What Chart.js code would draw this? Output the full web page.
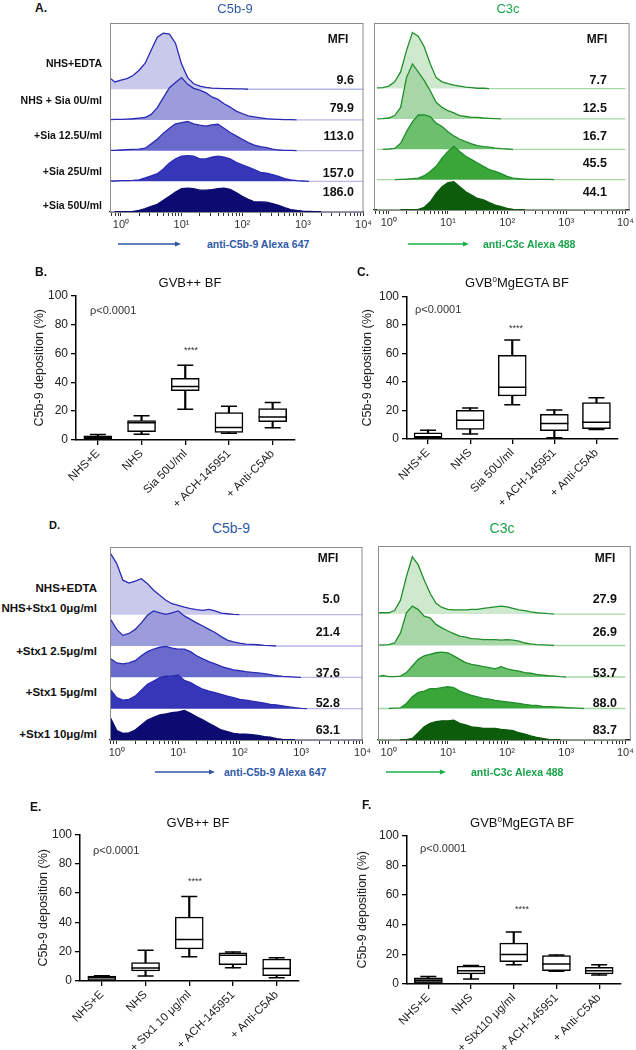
<!DOCTYPE html>
<html>
<head>
<meta charset="utf-8">
<script src="https://cdn.jsdelivr.net/npm/chart.js@4.4.1/dist/chart.umd.min.js"></script>
<style>
  body { margin: 0; background: #fff; }
  #fig { position: relative; width: 636px; height: 1050px; overflow: hidden; font-family: 'Liberation Sans', Arial, sans-serif; }
  #fig canvas { position: absolute; }
  .t { position: absolute; white-space: nowrap; line-height: 1; color: #111; }
  .b { font-weight: bold; }
  sup { font-size: 8px; vertical-align: 5px; line-height: 0; }
</style>
</head>
<body>
<div id="fig"></div>
<script>
// histogram bins, log10 of fluorescence
const logBins = [-0.2, -0.1, 0, 0.1, 0.2, 0.3, 0.4, 0.5, 0.6, 0.7,
  0.8, 0.9, 1, 1.1, 1.2, 1.3, 1.4, 1.5, 1.6, 1.7,
  1.8, 1.9, 2, 2.1, 2.2, 2.3, 2.4, 2.5, 2.6, 2.7,
  2.8, 2.9, 3, 3.1, 3.2, 3.3, 3.4, 3.5, 3.6, 3.7,
  3.8, 3.9, 4];

// A. sialidase, anti-C5b-9 (rows top -> bottom, counts scaled to row height 100)
const siaC5b9 = [
  [40, 24, 30, 35, 45, 62, 85, 128, 170, 183, 180, 150, 82, 38, 18, 10, 6, 4, 3, 2, 2, 1, 1, 0, 0, 0, 0, 0, 0, 0, 0, 0, 0, 0, 0, 0, 0, 0, 0, 0, 0, 0, 0],
  [1, 2, 2, 3, 4, 6, 8, 18, 40, 73, 105, 122, 138, 116, 103, 97, 89, 75, 67, 53, 42, 29, 21, 13, 10, 7, 4, 3, 2, 1, 1, 0, 0, 0, 0, 0, 0, 0, 0, 0, 0, 0, 0],
  [1, 1, 2, 3, 4, 5, 8, 22, 37, 57, 73, 87, 91, 95, 87, 83, 80, 84, 86, 73, 59, 48, 37, 26, 18, 13, 10, 5, 2, 1, 1, 0, 0, 0, 0, 0, 0, 0, 0, 0, 0, 0, 0],
  [1, 1, 2, 2, 3, 5, 11, 18, 25, 40, 60, 73, 82, 84, 82, 73, 73, 79, 82, 79, 73, 62, 54, 46, 38, 29, 27, 22, 16, 9, 5, 2, 1, 0, 0, 0, 0, 0, 0, 0, 0, 0, 0],
  [0, 0, 1, 1, 2, 5, 11, 18, 25, 38, 51, 65, 76, 78, 76, 71, 71, 73, 76, 78, 74, 63, 51, 41, 33, 33, 32, 27, 22, 14, 8, 5, 3, 2, 1, 0, 0, 0, 0, 0, 0, 0, 0]
];
// A. sialidase, anti-C3c
const siaC3c = [
  [2, 3, 8, 22, 55, 126, 185, 172, 137, 82, 36, 22, 16, 11, 8, 5, 3, 1, 1, 0, 0, 0, 0, 0, 0, 0, 0, 0, 0, 0, 0, 0, 0, 0, 0, 0, 0, 0, 0, 0, 0, 0, 0],
  [0, 1, 3, 11, 38, 137, 181, 154, 126, 93, 55, 38, 27, 20, 11, 8, 5, 5, 3, 2, 1, 0, 0, 0, 0, 0, 0, 0, 0, 0, 0, 0, 0, 0, 0, 0, 0, 0, 0, 0, 0, 0, 0],
  [0, 0, 1, 3, 20, 58, 91, 113, 113, 108, 86, 75, 58, 44, 33, 25, 18, 12, 9, 7, 4, 2, 1, 0, 0, 0, 0, 0, 0, 0, 0, 0, 0, 0, 0, 0, 0, 0, 0, 0, 0, 0, 0],
  [0, 0, 0, 0, 1, 2, 3, 5, 13, 27, 44, 71, 93, 110, 93, 77, 66, 55, 44, 33, 27, 20, 11, 5, 3, 2, 1, 1, 1, 1, 0, 0, 0, 0, 0, 0, 0, 0, 0, 0, 0, 0, 0],
  [0, 0, 0, 0, 0, 1, 1, 2, 9, 27, 55, 77, 90, 93, 77, 60, 49, 38, 33, 24, 16, 11, 5, 2, 1, 0, 0, 0, 0, 0, 0, 0, 0, 0, 0, 0, 0, 0, 0, 0, 0, 0, 0]
];
// D. Stx1, anti-C5b-9
const stxC5b9 = [
  [195, 195, 163, 110, 101, 107, 115, 99, 78, 62, 46, 35, 30, 24, 19, 16, 14, 17, 12, 5, 3, 1, 0, 0, 0, 0, 0, 0, 0, 0, 0, 0, 0, 0, 0, 0, 0, 0, 0, 0, 0, 0, 0],
  [85, 85, 53, 34, 40, 53, 74, 98, 112, 106, 101, 106, 112, 96, 85, 74, 64, 53, 43, 30, 19, 13, 9, 6, 5, 4, 2, 1, 0, 0, 0, 0, 0, 0, 0, 0, 0, 0, 0, 0, 0, 0, 0],
  [60, 60, 46, 43, 46, 53, 69, 82, 90, 96, 99, 93, 90, 90, 82, 69, 59, 50, 43, 35, 29, 24, 21, 18, 16, 14, 12, 9, 5, 3, 2, 1, 0, 0, 0, 0, 0, 0, 0, 0, 0, 0, 0],
  [60, 60, 35, 27, 30, 40, 59, 78, 88, 99, 104, 104, 108, 90, 83, 72, 62, 56, 51, 46, 40, 35, 30, 27, 24, 21, 18, 14, 12, 9, 6, 3, 1, 0, 0, 0, 0, 0, 0, 0, 0, 0, 0],
  [70, 70, 30, 21, 23, 32, 48, 64, 72, 80, 83, 87, 90, 94, 85, 74, 64, 53, 43, 32, 27, 21, 19, 19, 17, 15, 11, 9, 4, 2, 1, 0, 0, 0, 0, 0, 0, 0, 0, 0, 0, 0, 0]
];
// D. Stx1, anti-C3c
const stxC3c = [
  [4, 4, 4, 11, 44, 119, 182, 156, 108, 66, 34, 21, 15, 13, 13, 13, 15, 15, 18, 20, 23, 25, 23, 18, 13, 11, 7, 4, 3, 1, 0, 0, 0, 0, 0, 0, 0, 0, 0, 0, 0, 0, 0],
  [1, 2, 3, 8, 40, 104, 125, 114, 93, 88, 67, 56, 46, 38, 30, 27, 22, 21, 19, 19, 19, 17, 19, 17, 14, 8, 5, 3, 2, 1, 0, 0, 0, 0, 0, 0, 0, 0, 0, 0, 0, 0, 0],
  [0, 5, 1, 1, 3, 14, 35, 56, 67, 72, 77, 79, 77, 67, 56, 46, 40, 37, 33, 30, 26, 33, 26, 22, 19, 14, 12, 8, 6, 4, 3, 1, 0, 0, 0, 0, 0, 0, 0, 0, 0, 0, 0],
  [0, 0, 0, 1, 2, 16, 37, 51, 55, 63, 63, 66, 69, 66, 55, 48, 42, 37, 32, 30, 26, 23, 21, 19, 16, 13, 11, 10, 7, 6, 5, 4, 3, 2, 1, 0, 0, 0, 0, 0, 0, 0, 0],
  [0, 0, 0, 0, 0, 1, 5, 23, 42, 53, 58, 61, 61, 63, 53, 48, 42, 40, 37, 37, 37, 34, 32, 30, 23, 19, 13, 8, 5, 2, 1, 0, 0, 0, 0, 0, 0, 0, 0, 0, 0, 0, 0]
];

const siaRows = ['NHS+EDTA', 'NHS + Sia 0U/ml', '+Sia 12.5U/ml', '+Sia 25U/ml', '+Sia 50U/ml'];
const stxRows = ['NHS+EDTA', 'NHS+Stx1 0\u03bcg/ml', '+Stx1 2.5\u03bcg/ml', '+Stx1 5\u03bcg/ml', '+Stx1 10\u03bcg/ml'];
const mfiSiaC5b9 = ['9.6', '79.9', '113.0', '157.0', '186.0'];
const mfiSiaC3c = ['7.7', '12.5', '16.7', '45.5', '44.1'];
const mfiStxC5b9 = ['5.0', '21.4', '37.6', '52.8', '63.1'];
const mfiStxC3c = ['27.9', '26.9', '53.7', '88.0', '83.7'];
const decadeTicks = ['10\u2070', '10\u00b9', '10\u00b2', '10\u00b3', '10\u2074'];

// box plots: C5b-9 deposition (%)
const siaGroups = ['NHS+E', 'NHS', 'Sia 50U/ml', '+ ACH-145951', '+ Anti-C5Ab'];
const stxGroupsE = ['NHS+E', 'NHS', '+ Stx1 10 \u03bcg/ml', '+ ACH-145951', '+ Anti-C5Ab'];
const stxGroupsF = ['NHS+E', 'NHS', '+ Stx110 \u03bcg/ml', '+ ACH-145951', '+ Anti-C5Ab'];

const bMin = [0.3, 3.9, 21.2, 4.6, 8.4];
const bQ1 = [0.8, 5.7, 34.2, 5.3, 12.6];
const bMed = [1.8, 11.9, 37.0, 8.7, 16.0];
const bQ3 = [2.8, 13.5, 42.7, 19.0, 21.7];
const bMax = [3.8, 16.7, 51.8, 23.3, 26.0];

const cMin = [0, 3.5, 24.1, 0.9, 6.7];
const cQ1 = [0.5, 6.7, 30.3, 5.8, 7.2];
const cMed = [1.6, 13.2, 36.3, 10.9, 11.8];
const cQ3 = [4.4, 20.1, 58.8, 17.4, 25.5];
const cMax = [6.2, 21.8, 69.4, 20.4, 28.9];

const eMin = [0, 3.4, 16.5, 9.0, 2.3];
const eQ1 = [0.2, 6.8, 21.9, 11.1, 3.6];
const eMed = [2.5, 8.8, 28.4, 17.6, 8.6];
const eQ3 = [3.3, 12.6, 43.6, 19.2, 14.9];
const eMax = [3.6, 21.0, 57.6, 19.8, 15.8];

const fMin = [0, 3.4, 12.9, 8.6, 6.1];
const fQ1 = [0.4, 6.8, 15.1, 9.0, 6.8];
const fMed = [2.3, 9.0, 19.9, 13.5, 9.0];
const fQ3 = [4.1, 12.0, 27.5, 19.2, 11.3];
const fMax = [5.0, 12.4, 35.0, 19.6, 12.9];

Chart.defaults.font.family = "'Liberation Sans', Arial, sans-serif";
Chart.defaults.animation = false;

const fig = document.getElementById('fig');
const ROW = 100, YTOP = 616;

function addCanvas(x, y, w, h) {
  const c = document.createElement('canvas');
  c.width = w; c.height = h;
  c.style.left = x + 'px'; c.style.top = y + 'px';
  fig.appendChild(c);
  return c;
}

function text(str, x, y, align, cls, style) {
  const d = document.createElement('div');
  d.className = 't ' + (cls || '');
  d.innerHTML = str;
  const tx = align === 'c' ? '-50%' : align === 'r' ? '-100%' : '0';
  d.style.cssText = `left:${x}px;top:${y}px;transform:translate(${tx},-50%);` + (style || '');
  fig.appendChild(d);
}

const frame = {
  id: 'frame',
  afterDraw(chart, args, opts) {
    const { ctx, chartArea: a } = chart;
    ctx.save();
    ctx.strokeStyle = opts.color || '#888';
    ctx.lineWidth = 1;
    ctx.strokeRect(a.left + 0.5, a.top + 0.5, a.right - a.left - 1, a.bottom - a.top);
    ctx.restore();
  }
};

function logTicks(scale) {
  const t = [];
  for (let k = -1; k <= 4; k++) {
    for (let m = 1; m <= 9; m++) {
      const v = m * Math.pow(10, k);
      if (v >= scale.min * 0.9999 && v <= scale.max * 1.0001) t.push({ value: v, major: m === 1 });
    }
  }
  scale.ticks = t;
}

function decadeLabel(v) {
  const l = Math.log10(v), e = Math.round(l);
  return Math.abs(l - e) < 1e-6 && e >= 0 ? decadeTicks[e] : '';
}

function flowPanel(pos, rows, fills, line, base, range) {
  const cv = addCanvas(pos.x, pos.y, pos.w, pos.h);
  const n = rows.length;
  const datasets = rows.map((h, i) => {
    const off = (n - 1 - i) * ROW;
    return {
      data: logBins.map((e, k) => ({ x: Math.pow(10, e), y: off + h[k] })),
      fill: { value: off },
      backgroundColor: fills[i],
      borderColor: i === n - 1 ? fills[i] : line,
      borderWidth: 1.3,
      pointRadius: 0,
      tension: 0,
      order: n - i,
      segment: {
        borderColor: c => (h[c.p0DataIndex] === 0 && h[c.p1DataIndex] === 0) ? base : undefined
      }
    };
  });
  new Chart(cv, {
    type: 'line',
    data: { datasets },
    options: {
      responsive: false,
      layout: { padding: { left: pos.pl, right: pos.pr, top: pos.pt, bottom: 0 } },
      plugins: { legend: { display: false }, tooltip: { enabled: false }, frame: { color: '#8c8c8c' } },
      scales: {
        x: {
          type: 'logarithmic',
          min: Math.pow(10, range[0]),
          max: Math.pow(10, range[1]),
          afterBuildTicks: logTicks,
          afterFit: s => { s.height = 20; },
          ticks: { autoSkip: false, minRotation: 0, maxRotation: 0, padding: 2, color: '#333', font: { size: 11 }, callback: decadeLabel },
          grid: { drawOnChartArea: false, drawTicks: true, tickLength: 4, color: '#333' },
          border: { color: '#222', width: 1.3 }
        },
        y: { display: false, min: 0, max: YTOP }
      }
    },
    plugins: [frame]
  });
}

function boxPanel(pos, groups, mn, q1, md, q3, mx, firstFill) {
  const cv = addCanvas(pos.x, pos.y, pos.w, pos.h);
  const capLine = (data, r) => ({
    type: 'line', data, showLine: false, pointStyle: 'line',
    pointRadius: r, pointHoverRadius: r, pointBorderWidth: 1.5, pointBorderColor: '#000', order: 1
  });
  new Chart(cv, {
    type: 'bar',
    data: {
      labels: groups,
      datasets: [
        { type: 'bar', data: mn.map((v, i) => [v, mx[i]]), backgroundColor: '#000', barThickness: 1.5, grouped: false, order: 3 },
        { type: 'bar', data: q1.map((v, i) => [v, q3[i]]), backgroundColor: groups.map((g, i) => i === 0 ? firstFill : '#fff'),
          borderColor: '#000', borderWidth: 1.5, borderSkipped: false, barThickness: 28, grouped: false, order: 2 },
        capLine(md, 14),
        capLine(mx, 8),
        capLine(mn, 8)
      ]
    },
    options: {
      responsive: false,
      layout: { padding: { left: 0, right: pos.pr, top: 14, bottom: 0 } },
      plugins: { legend: { display: false }, tooltip: { enabled: false } },
      scales: {
        x: {
          afterFit: s => { s.height = pos.xh; },
          ticks: { autoSkip: false, minRotation: 45, maxRotation: 45, padding: 2, color: '#222', font: { size: 11.5 } },
          grid: { offset: false, drawOnChartArea: false, tickLength: 5, color: '#000', lineWidth: 1.3 },
          border: { color: '#000', width: 1.5 }
        },
        y: {
          min: 0, max: 100,
          afterFit: s => { s.width = pos.yw; },
          ticks: { stepSize: 20, padding: 3, color: '#222', font: { size: 12 } },
          grid: { drawOnChartArea: false, tickLength: 5, color: '#000', lineWidth: 1.3 },
          border: { color: '#000', width: 1.5 },
          title: { display: true, text: 'C5b-9 deposition (%)', color: '#222', font: { size: 12.5 } }
        }
      }
    }
  });
}

const blueFills = ['#c9c9ec', '#9c9cdc', '#6a6acd', '#3636b8', '#0b0b72'];
const greenFills = ['#cfe9cf', '#a7d7a7', '#6cbf6c', '#3aa63a', '#0c5c0c'];
const blueLine = '#2a2ab5', blueBase = '#b8b8ea';
const greenLine = '#1f8f2a', greenBase = '#a6d8a6';

flowPanel({ x: 100, y: 15, w: 274, h: 217, pl: 10, pr: 10, pt: 8 }, siaC5b9, blueFills, blueLine, blueBase, [-0.18, 4.0]);
flowPanel({ x: 366, y: 15, w: 270, h: 215, pl: 8, pr: 5, pt: 8 }, siaC3c, greenFills, greenLine, greenBase, [-0.25, 4.07]);
flowPanel({ x: 100, y: 539, w: 273, h: 221, pl: 10, pr: 10, pt: 8 }, stxC5b9, blueFills, blueLine, blueBase, [-0.11, 4.0]);
flowPanel({ x: 368, y: 538, w: 268, h: 222, pl: 10, pr: 5, pt: 8 }, stxC3c, greenFills, greenLine, greenBase, [-0.18, 4.09]);

boxPanel({ x: 28, y: 280, w: 282, h: 228, pr: 8, yw: 48, xh: 68 }, siaGroups, bMin, bQ1, bMed, bQ3, bMax, '#3a3a3a');
boxPanel({ x: 356, y: 281, w: 277, h: 226, pr: 8, yw: 51, xh: 68 }, siaGroups, cMin, cQ1, cMed, cQ3, cMax, '#ffffff');
boxPanel({ x: 32, y: 819, w: 282, h: 230, pr: 8, yw: 48, xh: 68 }, stxGroupsE, eMin, eQ1, eMed, eQ3, eMax, '#7a7a7a');
boxPanel({ x: 351, y: 820, w: 285, h: 230, pr: 1, yw: 56, xh: 66 }, stxGroupsF, fMin, fQ1, fMed, fQ3, fMax, '#6a6a6a');

// panel letters and titles
const C5 = 'color:#2f5aa6;', C3 = 'color:#19a34a;';
text('A.', 35, 8, 'l', 'b', 'font-size:12px;');
text('C5b-9', 235, 8, 'c', '', 'font-size:13px;' + C5);
text('C3c', 508, 8, 'c', '', 'font-size:13px;' + C3);
text('D.', 49, 525, 'l', 'b', 'font-size:11px;');
text('C5b-9', 231, 528, 'c', '', 'font-size:14px;' + C5);
text('C3c', 502, 528, 'c', '', 'font-size:14px;' + C3);

const rowYA = [63, 100, 135, 171, 205];
siaRows.forEach((s, i) => text(s, 102, rowYA[i], 'r', 'b', 'font-size:10.5px;'));
const mfiYA = [80, 108, 136, 173, 192];
text('MFI', 338, 39, 'c', 'b', 'font-size:12px;');
text('MFI', 597, 39, 'c', 'b', 'font-size:12px;');
mfiSiaC5b9.forEach((s, i) => text(s, 354, mfiYA[i], 'r', 'b', 'font-size:12.5px;'));
const mfiYA2 = [80, 108, 136, 163, 192];
mfiSiaC3c.forEach((s, i) => text(s, 607, mfiYA2[i], 'r', 'b', 'font-size:12.5px;'));

const rowYD = [589, 609, 652, 693, 735];
stxRows.forEach((s, i) => text(s, 97, rowYD[i], 'r', 'b', 'font-size:11.5px;'));
const mfiYD = [599, 632, 673, 703, 730];
text('MFI', 328, 558, 'c', 'b', 'font-size:12px;');
text('MFI', 605, 558, 'c', 'b', 'font-size:12px;');
mfiStxC5b9.forEach((s, i) => text(s, 340, mfiYD[i], 'r', 'b', 'font-size:12.5px;'));
mfiStxC3c.forEach((s, i) => text(s, 617, mfiYD[i], 'r', 'b', 'font-size:12.5px;'));

// axis captions with arrows
text('anti-C5b-9 Alexa 647', 207, 244, 'l', 'b', 'font-size:10.5px;' + C5);
text('anti-C3c Alexa 488', 483, 244, 'l', 'b', 'font-size:10.5px;' + C3);
text('anti-C5b-9 Alexa 647', 224, 772, 'l', 'b', 'font-size:10.5px;' + C5);
text('anti-C3c Alexa 488', 471, 772, 'l', 'b', 'font-size:10.5px;' + C3);

const svgNS = 'http://www.w3.org/2000/svg';
const svg = document.createElementNS(svgNS, 'svg');
svg.setAttribute('width', 636); svg.setAttribute('height', 1050);
svg.style.cssText = 'position:absolute;left:0;top:0;pointer-events:none;';
fig.appendChild(svg);
function arrow(x1, x2, y, color) {
  const l = document.createElementNS(svgNS, 'line');
  l.setAttribute('x1', x1); l.setAttribute('x2', x2 - 4); l.setAttribute('y1', y); l.setAttribute('y2', y);
  l.setAttribute('stroke', color); l.setAttribute('stroke-width', 1.3);
  svg.appendChild(l);
  const p = document.createElementNS(svgNS, 'polygon');
  p.setAttribute('points', `${x2},${y} ${x2 - 6},${y - 2.5} ${x2 - 6},${y + 2.5}`);
  p.setAttribute('fill', color);
  svg.appendChild(p);
}
arrow(118, 181, 244, '#2f55a4');
arrow(408, 469, 244, '#19b04a');
arrow(155, 215, 772, '#2f55a4');
arrow(386, 446, 772, '#19b04a');

// box plot panel texts
text('B.', 35, 272, 'l', 'b', 'font-size:12px;');
text('GVB++ BF', 190, 282, 'c', '', 'font-size:13px;');
text('\u03c1&lt;0.0001', 90, 310, 'l', '', 'font-size:11px;color:#333;');
text('****', 191, 350, 'c', '', 'font-size:9px;color:#333;');

text('C.', 357, 272, 'l', 'b', 'font-size:12px;');
text('GVB<sup>0</sup>MgEGTA BF', 517, 282, 'c', '', 'font-size:13px;');
text('\u03c1&lt;0.0001', 415, 309, 'l', '', 'font-size:11px;color:#333;');
text('****', 516, 328, 'c', '', 'font-size:9px;color:#333;');

text('E.', 30, 807, 'l', 'b', 'font-size:12px;');
text('GVB++ BF', 198, 822, 'c', '', 'font-size:13px;');
text('\u03c1&lt;0.0001', 93, 850, 'l', '', 'font-size:11px;color:#333;');
text('****', 195, 881, 'c', '', 'font-size:9px;color:#333;');

text('F.', 362, 805, 'l', 'b', 'font-size:12px;');
text('GVB<sup>0</sup>MgEGTA BF', 522, 822, 'c', '', 'font-size:13px;');
text('\u03c1&lt;0.0001', 420, 848, 'l', '', 'font-size:11px;color:#333;');
text('****', 522, 909, 'c', '', 'font-size:9px;color:#333;');
</script>
</body>
</html>
